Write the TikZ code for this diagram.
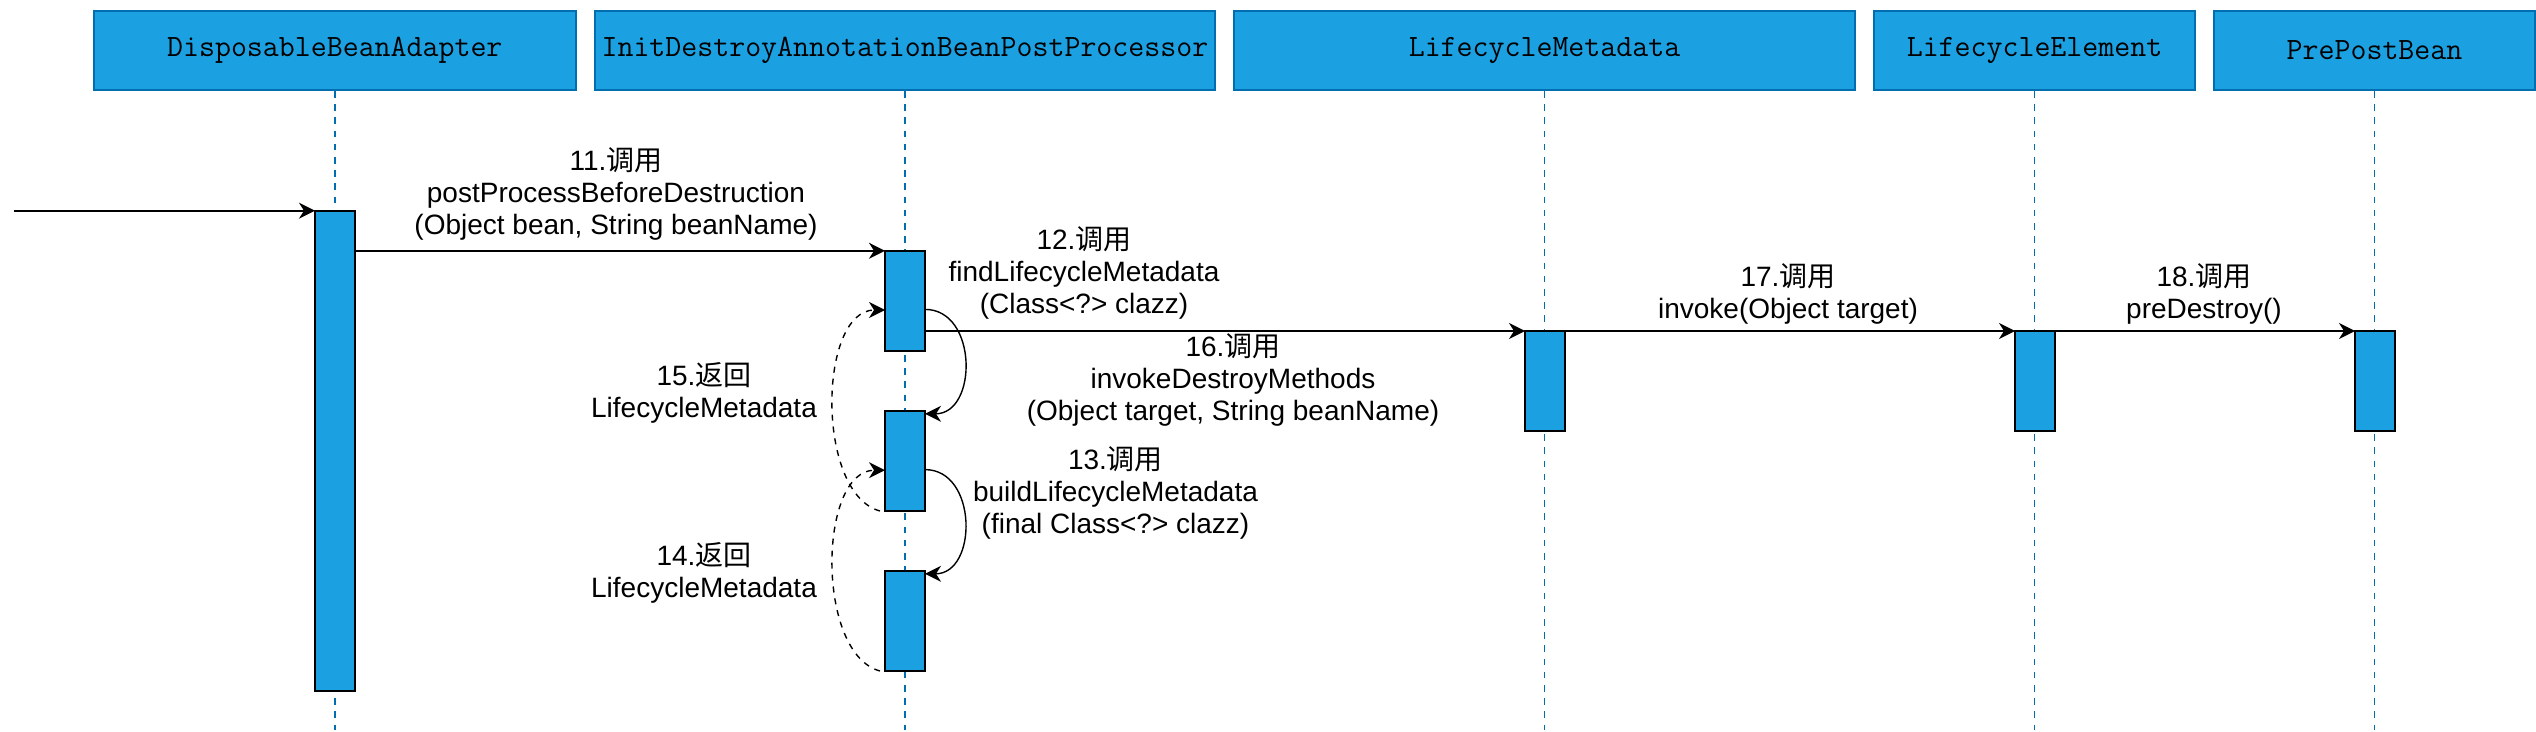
\documentclass[tikz,border=0pt]{standalone}
\usepackage{fontspec}
\setmainfont{Liberation Sans}
\newfontfamily\cjk{Noto Sans CJK SC}
\usetikzlibrary{arrows.meta}
\definecolor{fillblue}{HTML}{1BA1E2}
\definecolor{strokeblue}{HTML}{006EAF}
\begin{document}
\begin{tikzpicture}[x=0.5pt,y=-0.5pt,
  hdr/.style={draw=strokeblue, line width=1pt, fill=fillblue, minimum height=39.5pt, inner sep=0pt, font=\fontsize{15.5}{18}\selectfont\ttfamily},
  act/.style={draw=black, line width=1pt, fill=fillblue, minimum width=20pt, inner sep=0pt, outer sep=0pt},
  life/.style={draw=strokeblue, line width=0.8pt, dash pattern=on 3.3pt off 3.3pt},
  tip/.style={-{Stealth[length=8pt,width=8pt,inset=2.5pt]}},
  msg/.style={draw=black, line width=0.9pt, tip},
  selfmsg/.style={draw=black, line width=0.7pt, tip},
  ret/.style={draw=black, line width=0.7pt, dash pattern=on 3pt off 3pt, tip},
  lbl/.style={font=\fontsize{14}{16}\selectfont, align=center, inner sep=0pt}
]
\useasboundingbox (0,0) rectangle (2536,732);
\coordinate (bot) at (0,730);

% headers
\node[hdr, minimum width=240.8pt] (h1) at (334.8,50.5) {DisposableBeanAdapter};
\node[hdr, minimum width=310.2pt] (h2) at (904.9,50.5) {InitDestroyAnnotationBeanPostProcessor};
\node[hdr, minimum width=310.5pt] (h3) at (1544.5,50.5) {LifecycleMetadata};
\node[hdr, minimum width=160.5pt] (h4) at (2034.5,50.5) {LifecycleElement};
\node[hdr, minimum width=160.5pt] (h5) at (2374.5,50.5) {PrePostBean};

% lifelines
\draw[life] (h1.south) -- (h1.south |- bot);
\draw[life] (h2.south) -- (h2.south |- bot);
\draw[life] (h3.south) -- (h3.south |- bot);
\draw[life] (h4.south) -- (h4.south |- bot);
\draw[life] (h5.south) -- (h5.south |- bot);

% activation bars
\node[act, minimum height=240pt, anchor=north] (b1) at (335,210.7) {};
\node[act, minimum height=50pt, anchor=north] (b2) at (905,250.8) {};
\node[act, minimum height=50pt, anchor=north] (b3) at (905,411) {};
\node[act, minimum height=50pt, anchor=north] (b4) at (905,571) {};
\node[act, minimum height=50pt, anchor=north] (bLM) at (1545,331) {};
\node[act, minimum height=50pt, anchor=north] (bLE) at (2035,331) {};
\node[act, minimum height=50pt, anchor=north] (bPP) at (2375,331) {};

% messages
\coordinate (in) at (14,210.7);
\draw[msg] (in) -- (b1.north west);
\draw[msg] (b1.east |- b2.north) -- (b2.north west);
\draw[msg] (b2.east |- bLM.north) -- (bLM.north west);
\draw[msg] (bLM.north east) -- (bLE.north west);
\draw[msg] (bLE.north east) -- (bPP.north west);

% self calls
\draw[selfmsg] ([yshift=-4.3pt]b2.east) to[out=0,in=0,looseness=1.3] ([yshift=-1.4pt]b3.north east);
\draw[selfmsg] ([yshift=-4.3pt]b3.east) to[out=0,in=0,looseness=1.3] ([yshift=-1.4pt]b4.north east);

% returns
\draw[ret] ([xshift=-2.5pt]b3.south west) to[out=165,in=180,looseness=0.85] ([yshift=-4.6pt]b2.west);
\draw[ret] ([xshift=-2.5pt]b4.south west) to[out=165,in=180,looseness=0.85] ([yshift=-4.6pt]b3.west);

% labels
\node[lbl] (l11) at (616,193.5) {11.{\cjk 调用}\\postProcessBeforeDestruction\\(Object bean, String beanName)};
\node[lbl] (l12) at (1084,273) {12.{\cjk 调用}\\findLifecycleMetadata\\(Class<?> clazz)};
\node[lbl] (l16) at (1233,380) {16.{\cjk 调用}\\invokeDestroyMethods\\(Object target, String beanName)};
\node[lbl] (l13) at (1115.5,493) {13.{\cjk 调用}\\buildLifecycleMetadata\\(final Class<?> clazz)};
\node[lbl] (l15) at (704,393) {15.{\cjk 返回}\\LifecycleMetadata};
\node[lbl] (l14) at (704,573) {14.{\cjk 返回}\\LifecycleMetadata};
\node[lbl] (l17) at (1788,294) {17.{\cjk 调用}\\invoke(Object target)};
\node[lbl] (l18) at (2204,294) {18.{\cjk 调用}\\preDestroy()};
\end{tikzpicture}
\end{document}
